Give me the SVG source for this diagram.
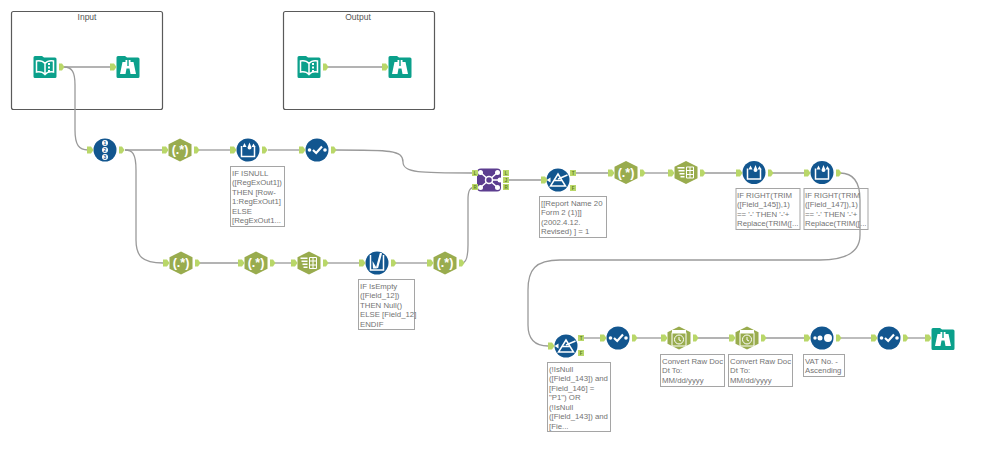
<svg xmlns="http://www.w3.org/2000/svg" width="999" height="453" viewBox="0 0 999 453">
<style>
text{font-family:"Liberation Sans",Arial,sans-serif;font-size:7.8px;fill:#737373}
.t{fill:#555;font-size:8.5px;text-anchor:middle}
.c{fill:none;stroke:#9a9a9a;stroke-width:1.3}
.box{fill:#fff;stroke:#5a5a5a;stroke-width:1.2}
.note{fill:#fff;stroke:#a5a5a5;stroke-width:1}
.g{fill:#fff;font-weight:700;text-anchor:middle}
.w{fill:none;stroke:#fff;stroke-width:1.5}
.w2{fill:none;stroke:#fff;stroke-width:2.200}
.w1{fill:none;stroke:#fff;stroke-width:1}
.wf{fill:#fff}
.a{fill:#b9d769}
.l{fill:#5c7a1f;font-size:4.500px;text-anchor:middle;font-weight:700}
.n{fill:#12568f;font-size:5px;font-weight:700;text-anchor:middle}
</style>
<defs>
<g id="in"><path class="a" d="M0-3.500H4L6.500 0 4 3.500H0Z"/></g>
<g id="out"><path class="a" d="M0-3.500H3L5.500 0 3 3.500H0Z"/></g>
<g id="hex"><path d="M0-11.500L11.500-5.800V5.800L0 11.500-11.500 5.800V-5.800Z" fill="#99ac4e"/></g>
<g id="teal"><path d="M-11.500-9.500Q-11.500-11-10-11H-3L-1-9.500H10Q11.500-9.500 11.500-8V9.500Q11.500 11 10 11H-10Q-11.500 11-11.500 9.500Z" fill="#0ba08b"/></g>
<g id="browse"><use href="#teal"/><path class="wf" d="M-8 7L-5.500-5H-2.500V-7H-.7V-1H.7V-7H2.500V-5H5.500L8 7H2.500L1.500 1.500H-1.500L-2.500 7Z"/></g>
<g id="book"><use href="#teal"/><path class="w" d="M-8.500-6Q-3-7 0-3.500Q3-7 8.500-6V5Q3 4 0 7.500Q-3 4-8.500 5ZM0-3.500V7.500"/><path class="wf" d="M3-4h2v2h-2zM3-.5h2v2h-2zM3 3h2v2h-2z"/></g>
<circle id="blue" r="11.500" fill="#12568f"/>
<g id="select"><use href="#blue"/><circle class="wf" cx="-7.500" r="1.800"/><circle class="wf" cx="8" r="1.800"/><path class="w2" d="M-4 0L-.8 3 5-3.500"/></g>
<g id="formula"><use href="#blue"/><path class="w" d="M-6.500-4V6.500H6.500V-4"/><path class="wf" d="M-3.500-7L-1.500-3H-5.500ZM1.500-7.500L3.500-2.500A2 2 0 1 1-.5-2.500ZM5.500-6.500L7.500-3H3.500Z"/></g>
<g id="filter"><use href="#blue"/><path class="w" d="M-7.500 6H7.500L0-6ZM-3.500 0.500H3.500"/><path class="w" d="M0-1L9.500-5"/><path class="wf" d="M-11.500 0L-7.500-2.500V2.500Z"/></g>
<g id="regex"><use href="#hex"/><text class="g" y="4" style="font-size:12.500px">(.*)</text></g>
<g id="ttc"><use href="#hex"/><path class="wf" d="M-8.500-5.500h7v1.500h-7zM-7.500-2.500h6v1.500h-6zM-6.500.5h5v1.500h-5zM-5.500 3.500h4v1.500h-4z"/><path class="w1" d="M.5-5.500h7v11h-7zM.5-2h7M.5 2h7M4-5.500v11"/></g>
<g id="dt"><use href="#hex"/><path class="wf" d="M-7-8H7V-5H-7Z"/><rect class="w1" x="-7" y="-5" width="14" height="13"/><circle class="w1" cy="1.500" r="4.500"/><path class="w1" d="M0-1V2L2 3"/></g>
</defs>

<g id="container-input"><rect class="box" x="11.500" y="11.500" width="151" height="98" rx="2"/><text class="t" x="87" y="20">Input</text></g>
<g id="container-output"><rect class="box" x="283.500" y="11.500" width="151" height="98" rx="2"/><text class="t" x="358" y="20">Output</text></g>

<g id="connectors">
<path class="c" d="M64 67H112"/>
<path class="c" d="M64 67C72 67 75 72 75 85V130C75 145 79 150 88 150"/>
<path class="c" d="M327 67H383"/>
<path class="c" d="M125 150H163"/>
<path class="c" d="M199 150H231"/>
<path class="c" d="M268 150H300"/>
<path class="c" d="M335 150C390 150 403 150 403 162C403 173 420 173 473 173"/>
<path class="c" d="M125 150C132 150 136 153 136 170V240C136 256 142 263 163 263"/>
<path class="c" d="M199 263H238"/>
<path class="c" d="M274 263H292"/>
<path class="c" d="M328 263H359"/>
<path class="c" d="M395 263H427"/>
<path class="c" d="M462 263C466 263 468 258 468 245V200C468 190 470 187 476 187"/>
<path class="c" d="M506 180H541"/>
<path class="c" d="M575 173H609"/>
<path class="c" d="M644 173H669"/>
<path class="c" d="M704 173H737"/>
<path class="c" d="M772 173H805"/>
<path class="c" d="M840 173C852 173 860 180 860 200V235C860 252 845 260 820 260H560C535 260 528 270 528 290V325C528 340 535 346 548 346"/>
<path class="c" d="M583 338H601"/>
<path class="c" d="M636 338H662"/>
<path class="c" d="M697 338H730"/>
<path class="c" d="M765 338H805"/>
<path class="c" d="M840 338H872"/>
<path class="c" d="M907 338H926"/>
</g>

<g id="n1"><use href="#book" x="45" y="67"/><use href="#out" x="59" y="67"/></g>
<g id="n2"><use href="#browse" x="128" y="67"/><use href="#in" x="110" y="67"/></g>
<g id="n3"><use href="#book" x="309" y="67"/><use href="#out" x="323" y="67"/></g>
<g id="n4"><use href="#browse" x="400" y="67"/><use href="#in" x="382" y="67"/></g>

<g id="n5"><use href="#blue" x="105" y="150"/><use href="#in" x="87" y="150"/><use href="#out" x="119" y="150"/>
<circle class="wf" cx="105" cy="143" r="3"/><circle class="wf" cx="105" cy="150" r="3"/><circle class="wf" cx="105" cy="157" r="3"/><text class="n" x="105" y="144.800">1</text><text class="n" x="105" y="151.800">2</text><text class="n" x="105" y="158.800">3</text></g>
<g id="n6"><use href="#regex" x="180" y="150"/><use href="#in" x="162" y="150"/><use href="#out" x="194" y="150"/></g>
<g id="n7"><use href="#formula" x="248" y="150"/><use href="#in" x="230" y="150"/><use href="#out" x="262" y="150"/>
<rect class="note" x="230.500" y="166.500" width="54" height="60"/><text x="232" y="175.500">IF ISNULL</text><text x="232" y="185">([RegExOut1])</text><text x="232" y="194.500">THEN [Row-</text><text x="232" y="204">1:RegExOut1]</text><text x="232" y="213.500">ELSE</text><text x="232" y="223">[RegExOut1...</text></g>
<g id="n8"><use href="#select" x="317" y="150"/><use href="#in" x="299" y="150"/><use href="#out" x="331" y="150"/></g>

<g id="n9"><use href="#regex" x="181" y="263"/><use href="#in" x="163" y="263"/><use href="#out" x="195" y="263"/></g>
<g id="n10"><use href="#regex" x="256" y="263"/><use href="#in" x="238" y="263"/><use href="#out" x="270" y="263"/></g>
<g id="n11"><use href="#ttc" x="309" y="263"/><use href="#in" x="291" y="263"/><use href="#out" x="323" y="263"/></g>
<g id="n12"><use href="#blue" x="377" y="263"/><use href="#in" x="359" y="263"/><use href="#out" x="391" y="263"/>
<path class="w" d="M370.500 255V270H383.500V255"/><path class="w2" d="M377 268L381 253"/><path class="wf" d="M372.500 261L377 268.500 373 268.500Z"/>
<rect class="note" x="358.500" y="279.500" width="56" height="50"/><text x="360" y="288.500">IF IsEmpty</text><text x="360" y="298">([Field_12])</text><text x="360" y="307.500">THEN Null()</text><text x="360" y="317">ELSE [Field_12]</text><text x="360" y="326.500">ENDIF</text></g>
<g id="n13"><use href="#regex" x="445" y="263"/><use href="#in" x="427" y="263"/><use href="#out" x="459" y="263"/></g>

<g id="n14"><rect x="477" y="168.500" width="24" height="23" rx="4" fill="#5c3d8f"/>
<path class="w" d="M481 173L489 180 481 187M497 173L489 180 497 187M489 180H501"/><circle cx="489" cy="180" r="3.500" fill="#5c3d8f" stroke="#fff" stroke-width="1.500"/><circle class="wf" cx="480.500" cy="172.500" r="2.500"/><circle class="wf" cx="480.500" cy="187.500" r="2.500"/><circle class="wf" cx="497.500" cy="172.500" r="2.500"/><circle class="wf" cx="497.500" cy="187.500" r="2.500"/><circle class="wf" cx="500" cy="180" r="2.500"/>
<rect class="a" x="472" y="170" width="6" height="6"/><text class="l" x="475" y="174.500">L</text><rect class="a" x="472" y="184" width="6" height="6"/><text class="l" x="475" y="188.500">R</text>
<rect class="a" x="503" y="170" width="6" height="6"/><text class="l" x="506" y="174.500">L</text><rect class="a" x="503" y="177" width="6" height="6"/><text class="l" x="506" y="181.500">J</text><rect class="a" x="503" y="184" width="6" height="6"/><text class="l" x="506" y="188.500">R</text></g>
<g id="n15"><use href="#filter" x="558" y="180"/><use href="#in" x="541" y="180"/>
<rect class="a" x="570" y="170" width="6" height="6"/><text class="l" x="573" y="174.500">T</text><rect class="a" x="570" y="185" width="6" height="6"/><text class="l" x="573" y="189.500">F</text>
<rect class="note" x="539.500" y="196.500" width="67" height="41"/><text x="541" y="205.500">[[Report Name 20</text><text x="541" y="215">Form 2 (1)]]</text><text x="541" y="224.500">(2002.4.12.</text><text x="541" y="234">Revised)  ] = 1</text></g>
<g id="n16"><use href="#regex" x="626" y="172.500"/><use href="#in" x="608" y="173"/><use href="#out" x="640" y="173"/></g>
<g id="n17"><use href="#ttc" x="686" y="172.500"/><use href="#in" x="668" y="173"/><use href="#out" x="700" y="173"/></g>
<g id="n18"><use href="#formula" x="754" y="172.500"/><use href="#in" x="736" y="173"/><use href="#out" x="768" y="173"/>
<rect class="note" x="736" y="188.500" width="64" height="41"/><text x="737" y="197.500">IF RIGHT(TRIM</text><text x="737" y="207">([Field_145]),1)</text><text x="737" y="216.500">== '-' THEN '-'+</text><text x="737" y="226">Replace(TRIM([...</text></g>
<g id="n19"><use href="#formula" x="822" y="172.500"/><use href="#in" x="804" y="173"/><use href="#out" x="836" y="173"/>
<rect class="note" x="804" y="188.500" width="64" height="41" fill-opacity="0"/><text x="805" y="197.500">IF RIGHT(TRIM</text><text x="805" y="207">([Field_147]),1)</text><text x="805" y="216.500">== '-' THEN '-'+</text><text x="805" y="226">Replace(TRIM([...</text></g>

<g id="n20"><use href="#filter" x="566" y="346"/><use href="#in" x="548" y="346"/>
<rect class="a" x="578" y="335" width="6" height="6"/><text class="l" x="581" y="339.500">T</text><rect class="a" x="578" y="350" width="6" height="6"/><text class="l" x="581" y="354.500">F</text>
<rect class="note" x="547.500" y="362.500" width="63" height="69"/><text x="549" y="371.500">(!IsNull</text><text x="549" y="381">([Field_143]) and</text><text x="549" y="390.500">[Field_146] =</text><text x="549" y="400">"P1") OR</text><text x="549" y="409.500">(!IsNull</text><text x="549" y="419">([Field_143]) and</text><text x="549" y="428.500">[Fie...</text></g>
<g id="n21"><use href="#select" x="618" y="338"/><use href="#in" x="600" y="338"/><use href="#out" x="632" y="338"/></g>
<g id="n22"><use href="#dt" x="679" y="338"/><use href="#in" x="661" y="338"/><use href="#out" x="693" y="338"/>
<rect class="note" x="660.500" y="354.500" width="64" height="32"/><text x="662" y="363.500">Convert Raw Doc</text><text x="662" y="373">Dt To:</text><text x="662" y="382.500">MM/dd/yyyy</text></g>
<g id="n23"><use href="#dt" x="747" y="338"/><use href="#in" x="729" y="338"/><use href="#out" x="761" y="338"/>
<rect class="note" x="728.500" y="354.500" width="64" height="32"/><text x="730" y="363.500">Convert Raw Doc</text><text x="730" y="373">Dt To:</text><text x="730" y="382.500">MM/dd/yyyy</text></g>
<g id="n24"><use href="#blue" x="822" y="338"/><use href="#in" x="804" y="338"/><use href="#out" x="836" y="338"/>
<circle class="wf" cx="815" cy="338" r="1.700"/><circle class="wf" cx="820" cy="338" r="2.500"/><circle class="wf" cx="828" cy="338" r="4"/>
<rect class="note" x="803.500" y="354.500" width="41" height="22"/><text x="805" y="363.500">VAT No. -</text><text x="805" y="373">Ascending</text></g>
<g id="n25"><use href="#select" x="889" y="338"/><use href="#in" x="871" y="338"/><use href="#out" x="903" y="338"/></g>
<g id="n26"><use href="#browse" x="943" y="339"/><use href="#in" x="925" y="338"/></g>
</svg>
